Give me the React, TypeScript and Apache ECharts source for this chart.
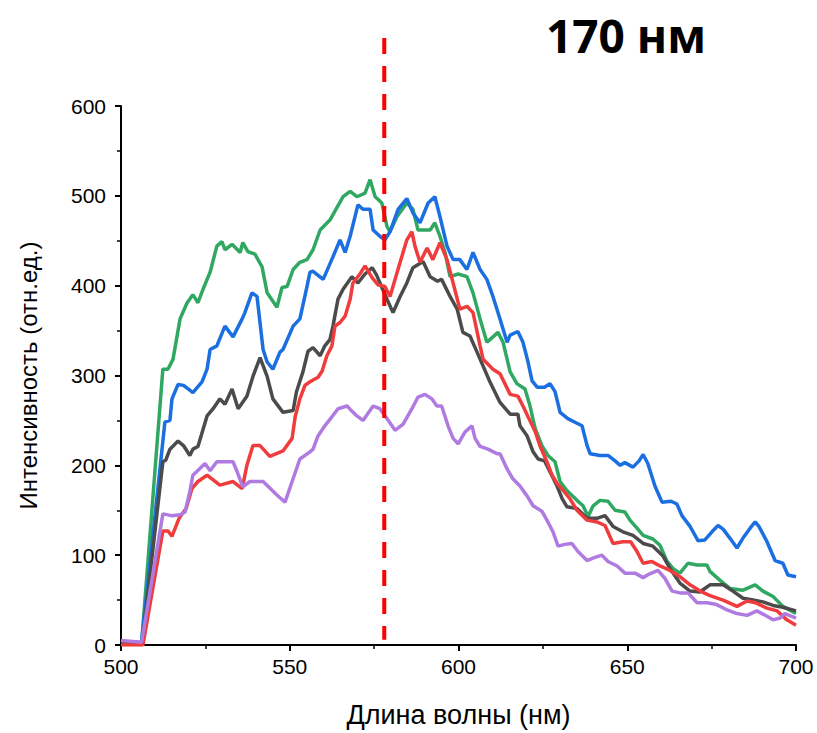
import React, { useEffect, useRef } from "react";
import * as echarts from "echarts";

const titleText = "170 нм";
const xName = "Длина волны (нм)";
const yName = "Интенсивность (отн.ед.)";
const markerWavelength = 578;
const markerRange = [675.7, 5.9];

const green: number[][] = [
  [500, 2], [506.1, 2], [512.4, 307], [513.9, 307], [515.4, 318], [517.5, 363], [519.6, 381], [521.3, 390], [522.8, 381],
  [524.3, 396], [526.4, 415], [528.4, 444], [529.9, 449], [530.8, 440], [532.9, 446], [535.3, 437], [536.1, 448], [537.6, 438],
  [539.7, 435], [541.8, 421], [543.3, 392], [546.2, 376], [547.7, 398], [549.2, 399], [551.0, 418], [553.0, 426], [555.1, 429],
  [556.9, 440], [559.0, 462], [561.9, 473], [565.8, 499], [567.9, 505], [569.9, 499], [572.3, 503], [573.8, 518], [575.3, 499],
  [577.3, 492], [578.8, 466], [579.7, 460], [581.8, 477], [584.7, 492], [586.5, 485], [588.0, 462], [591.6, 462], [593.0, 470],
  [594.5, 455], [596.0, 437], [597.5, 410], [599.9, 413], [602.5, 410], [604.3, 392], [606.4, 363], [608.4, 337], [609.3, 340],
  [611.7, 348], [613.2, 337], [615.3, 304], [617.3, 291], [619.7, 285], [621.2, 266], [622.7, 241], [624.7, 222], [626.5, 211],
  [628.6, 204], [630.1, 182], [632.1, 172], [635.1, 161], [636.9, 155], [638.4, 143], [639.9, 155], [641.9, 161], [644.3, 160],
  [646.4, 150], [649.3, 148], [650.8, 139], [652.9, 130], [654.7, 122], [657.6, 118], [659.7, 111], [661.8, 93], [663.6, 85],
  [665.6, 80], [668.0, 91], [670.7, 89], [673.6, 89], [674.5, 82], [677.5, 72], [680.4, 63], [684.3, 61], [687.9, 67],
  [690.2, 60], [693.2, 54], [696.1, 43], [700, 35],
];

const blue: number[][] = [
  [500, 3], [506.1, 3], [513.0, 248], [514.5, 250], [515.1, 274], [516.9, 290], [518.5, 289], [519.9, 285], [521.3, 281],
  [524.0, 293], [525.5, 307], [526.4, 329], [528.4, 333], [530.8, 355], [533.2, 343], [535.9, 363], [536.7, 370], [538.8, 392],
  [540.3, 388], [542.1, 329], [543.3, 315], [545.0, 307], [547.1, 326], [548.0, 329], [551.0, 355], [553.0, 363], [555.1, 399],
  [556.0, 415], [556.9, 416], [559.9, 407], [562.8, 432], [564.9, 451], [566.4, 437], [567.9, 455], [570.2, 490], [571.7, 485],
  [573.8, 485], [574.7, 462], [576.7, 455], [578.2, 451], [579.7, 460], [582.1, 485], [584.7, 497], [586.5, 481], [588.6, 470],
  [591.0, 492], [593.0, 499], [594.5, 477], [596.6, 444], [598.4, 429], [600.4, 429], [602.5, 418], [604.3, 437], [606.4, 418],
  [608.4, 407], [610.2, 388], [612.3, 363], [614.4, 337], [615.3, 345], [617.6, 349], [619.1, 337], [620.6, 315], [621.8, 294],
  [623.3, 287], [625.5, 287], [627.1, 291], [628.6, 282], [630.1, 259], [632.4, 252], [634.5, 248], [636.6, 244], [638.1, 222],
  [639.0, 213], [641.9, 211], [644.3, 211], [646.4, 205], [647.9, 200], [649.3, 203], [651.7, 198], [653.5, 205], [654.7, 212],
  [656.1, 202], [658.2, 177], [660.3, 159], [663.0, 160], [664.7, 157], [666.2, 144], [668.6, 132], [671.0, 116], [673.0, 117],
  [675.1, 126], [676.9, 133], [678.4, 129], [680.4, 119], [682.5, 108], [684.3, 119], [686.4, 130], [687.9, 137], [689.0, 132],
  [691.4, 115], [693.8, 94], [696.1, 91], [697.6, 78], [700, 76],
];

const gray: number[][] = [
  [500, 2], [506.3, 2], [512.4, 204], [513.3, 206], [514.5, 218], [516.9, 227], [518.5, 222], [520.4, 211], [521.3, 218],
  [522.8, 221], [525.5, 255], [527.3, 263], [529.3, 274], [530.8, 268], [532.9, 285], [534.7, 263], [537.3, 277], [539.1, 299],
  [541.2, 320], [543.3, 299], [545.0, 274], [548.0, 259], [551.0, 261], [552.0, 282], [553.9, 304], [555.4, 327], [556.9, 331],
  [559.0, 322], [560.4, 333], [561.9, 340], [562.8, 355], [564.3, 385], [565.8, 396], [568.4, 410], [570.2, 403], [572.3, 413],
  [574.4, 420], [575.7, 412], [577.3, 398], [578.8, 385], [580.6, 370], [582.7, 388], [584.7, 403], [586.5, 420], [589.5, 427],
  [591.6, 410], [593.8, 405], [595.0, 407], [597.5, 388], [599.6, 374], [601.3, 348], [603.4, 344], [605.5, 326], [609.3, 293],
  [612.3, 270], [615.3, 257], [617.6, 257], [618.2, 244], [620.3, 233], [622.1, 215], [623.6, 207], [625.5, 205], [627.1, 193],
  [629.2, 177], [630.7, 163], [632.1, 154], [635.1, 152], [638.1, 141], [641.0, 141], [643.4, 144], [645.8, 132], [648.7, 126],
  [651.7, 122], [654.7, 113], [657.6, 110], [660.6, 99], [662.7, 85], [665.6, 69], [668.6, 60], [671.5, 59], [674.5, 67],
  [678.4, 67], [681.3, 60], [684.3, 52], [687.3, 50], [690.2, 48], [693.2, 44], [696.1, 42], [700, 38],
];

const red: number[][] = [
  [500, 0], [506.5, 0], [512.4, 127], [513.9, 127], [515.1, 121], [517.2, 141], [519.3, 152], [521.0, 174], [522.8, 182],
  [525.5, 189], [529.3, 178], [533.2, 182], [535.9, 174], [537.3, 200], [539.1, 222], [541.2, 222], [544.1, 210], [548.0, 216],
  [550.7, 230], [551.6, 254], [553.0, 274], [554.5, 289], [556.0, 293], [558.4, 298], [559.6, 305], [561.0, 322], [562.5, 333],
  [563.4, 355], [564.9, 359], [566.4, 366], [567.9, 385], [568.7, 403], [570.8, 413], [572.3, 422], [574.4, 409], [576.1, 401],
  [578.2, 399], [579.7, 388], [581.2, 407], [582.7, 426], [584.7, 451], [586.2, 460], [587.1, 444], [588.6, 426], [590.7, 442],
  [592.4, 429], [594.5, 448], [596.6, 429], [598.4, 403], [600.4, 374], [602.5, 377], [604.3, 370], [606.4, 333], [607.3, 318],
  [610.2, 307], [612.3, 302], [615.3, 279], [617.6, 277], [619.1, 266], [620.6, 254], [622.7, 238], [624.1, 222], [626.2, 204],
  [627.7, 189], [629.2, 180], [631.0, 172], [633.0, 163], [635.1, 150], [638.1, 139], [641.0, 137], [643.4, 133], [645.8, 113],
  [648.7, 115], [651.0, 115], [652.9, 104], [654.7, 91], [657.3, 93], [659.7, 88], [662.7, 83], [665.6, 76], [668.6, 67],
  [671.6, 60], [674.5, 55], [678.4, 50], [682.5, 43], [685.5, 49], [688.0, 47], [691.4, 41], [694.4, 38], [697.3, 28], [700, 22],
];

const purple: number[][] = [
  [500, 5], [506.1, 3], [512.4, 146], [515.0, 144], [517.5, 145], [519.0, 148], [520.4, 171], [521.3, 189], [524.9, 202],
  [526.4, 194], [528.4, 204], [533.2, 204], [534.4, 193], [536.1, 176], [538.2, 182], [542.1, 182], [546.2, 167], [548.6, 159],
  [550.7, 182], [553.0, 207], [556.0, 215], [556.9, 218], [558.4, 233], [560.4, 244], [562.5, 254], [564.3, 263], [567.0, 266],
  [568.0, 262], [569.9, 255], [571.7, 250], [574.7, 266], [576.7, 263], [578.8, 252], [581.2, 239], [583.6, 246], [586.2, 263],
  [588.0, 276], [590.1, 279], [592.1, 274], [593.6, 266], [595.0, 266], [596.9, 244], [598.4, 230], [599.9, 224], [601.9, 237],
  [604.0, 244], [604.9, 230], [606.4, 221], [608.7, 218], [611.4, 213], [612.3, 213], [614.4, 196], [616.1, 185], [618.2, 177],
  [620.3, 166], [622.1, 155], [624.7, 149], [626.2, 139], [628.0, 126], [629.5, 110], [631.5, 112], [633.6, 113], [635.4, 104],
  [638.1, 94], [640.0, 97], [642.5, 100], [644.3, 93], [647.0, 88], [649.3, 80], [652.3, 80], [654.7, 75], [656.5, 79],
  [659.1, 83], [661.2, 74], [663.3, 60], [665.6, 58], [668.0, 58], [670.7, 47], [673.6, 47], [676.5, 45], [679.6, 39],
  [682.5, 35], [685.5, 33], [688.4, 38], [691.4, 32], [693.2, 28], [695.3, 30], [696.7, 35], [698.0, 33], [700, 30],
];

const seriesList = [
  { name: "green", data: green, color: "#31a862" },
  { name: "blue", data: blue, color: "#1b6fe0" },
  { name: "gray", data: gray, color: "#4b4b4b" },
  { name: "red", data: red, color: "#f03c3c" },
  { name: "purple", data: purple, color: "#b07be0" },
];

export default function App() {
  const ref = useRef<HTMLDivElement>(null);
  useEffect(() => {
    document.body.style.margin = "0";
    const chart = echarts.init(ref.current!, null, { renderer: "svg" });
    const font = "Liberation Sans, Arial, sans-serif";
    const axisCommon = {
      axisLine: { show: true, onZero: false, lineStyle: { color: "#000", width: 2 } },
      axisTick: { show: true, inside: false, length: 6, lineStyle: { color: "#000", width: 2 } },
      minorTick: { show: true, splitNumber: 2, length: 4, lineStyle: { color: "#000", width: 1.5 } },
      splitLine: { show: false },
      axisLabel: { color: "#000", fontSize: 21, fontFamily: font },
    };
    chart.setOption({
      animation: false,
      backgroundColor: "#fff",
      title: {
        text: titleText,
        left: 541,
        top: 7,
        textStyle: { fontSize: 46, fontWeight: "bold", fontFamily: "Open Sans, Liberation Sans, sans-serif", color: "#000" },
      },
      grid: { left: 121, right: 21, top: 106, bottom: 86, containLabel: false },
      xAxis: {
        type: "value",
        min: 500,
        max: 700,
        interval: 50,
        name: xName,
        nameLocation: "middle",
        nameGap: 56,
        ...axisCommon,
        axisLabel: { ...axisCommon.axisLabel, margin: 11 },
        nameTextStyle: { color: "#000", fontSize: 27, fontFamily: font },
      },
      yAxis: {
        type: "value",
        min: 0,
        max: 600,
        interval: 100,
        name: yName,
        nameLocation: "middle",
        nameGap: 81,
        nameRotate: 90,
        ...axisCommon,
        axisLabel: { ...axisCommon.axisLabel, margin: 15 },
        nameTextStyle: { color: "#000", fontSize: 24, fontFamily: font },
      },
      series: [
        ...seriesList.map((s) => ({
          type: "line",
          name: s.name,
          data: s.data,
          showSymbol: false,
          symbol: "none",
          lineStyle: { color: s.color, width: 3.5 },
          itemStyle: { color: s.color },
          z: 2,
        })),
        {
          type: "line",
          name: "marker",
          data: [
            [markerWavelength, markerRange[0]],
            [markerWavelength, markerRange[1]],
          ],
          clip: false,
          symbol: "none",
          lineStyle: { color: "#ff0000", width: 4, type: [16, 12] },
          z: 5,
        },
      ],
    });
    return () => chart.dispose();
  }, []);
  return <div ref={ref} style={{ width: 817, height: 733 }} />;
}
